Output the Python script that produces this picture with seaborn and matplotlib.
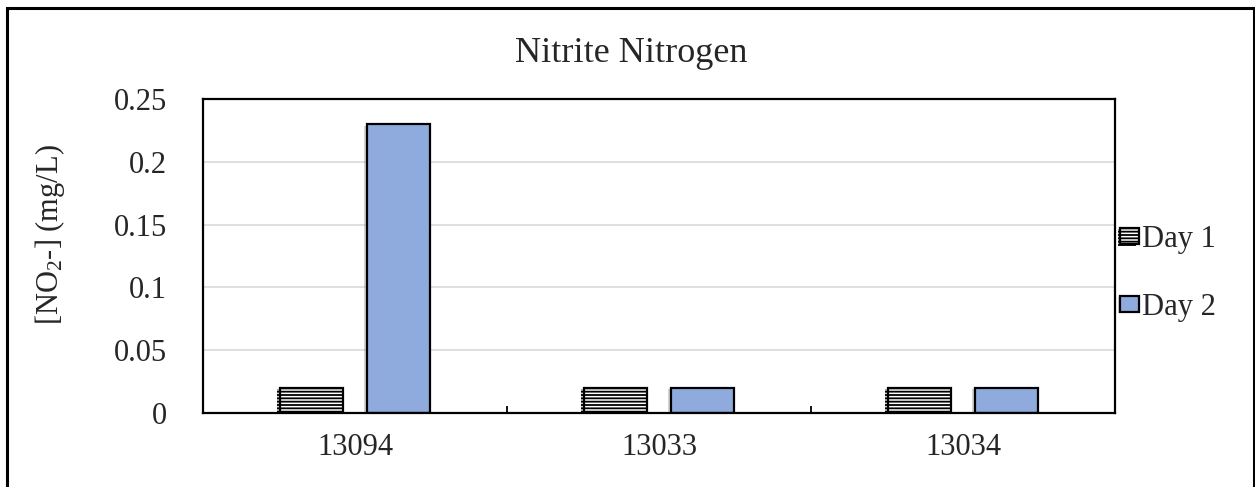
import pandas as pd
import matplotlib.pyplot as plt
import matplotlib.patheffects as pe
from matplotlib.patches import Rectangle
from matplotlib.ticker import FixedLocator
import seaborn as sns

sites = ["13094", "13033", "13034"]
days = ["Day 1", "Day 2"]
day1 = [0.02, 0.02, 0.02]
day2 = [0.23, 0.02, 0.02]
yticks = [0, 0.05, 0.1, 0.15, 0.2, 0.25]
ytick_labels = ["0", "0.05", "0.1", "0.15", "0.2", "0.25"]

df = pd.DataFrame({
    "site": sites * 2,
    "day": [days[0]] * 3 + [days[1]] * 3,
    "value": day1 + day2,
})

sns.set_theme(style="white")
plt.rcParams["font.family"] = ["Liberation Serif", "DejaVu Serif"]
plt.rcParams["mathtext.default"] = "regular"
plt.rcParams["hatch.linewidth"] = 1.3

fig = plt.figure(figsize=(12.55, 4.87), dpi=100)
ax = fig.add_axes([203 / 1255, 1 - 413 / 487, 912 / 1255, 314 / 487])

sns.barplot(data=df, x="site", y="value", hue="day", order=sites, hue_order=days,
            palette={"Day 1": "white", "Day 2": "#8faadc"},
            edgecolor="black", linewidth=1.6, width=0.57, gap=0.27,
            saturation=1, ax=ax)

# soft drop shadow like the original
shadow = [pe.SimplePatchShadow(offset=(-2, -1), shadow_rgbFace="gray", alpha=0.35), pe.Normal()]
for bar in ax.containers[0]:
    bar.set_hatch("-----")
    bar.set_path_effects(shadow)
for bar in ax.containers[1]:
    bar.set_path_effects(shadow)

ax.legend(handles=[ax.containers[0], ax.containers[1]], labels=days,
          loc="center left", bbox_to_anchor=(1.006, 0.445), frameon=False,
          fontsize=22, handlelength=0.6, handleheight=0.45, handletextpad=0.12,
          labelspacing=1.27, borderpad=0, borderaxespad=0)

ax.set_xlim(-0.5, 2.5)
ax.set_ylim(0, 0.25)
ax.set_yticks(yticks)
ax.set_yticklabels(ytick_labels)
ax.yaxis.grid(True, color="#d9d9d9", linewidth=1.2)
ax.set_axisbelow(True)

ax.xaxis.set_minor_locator(FixedLocator([0.5, 1.5]))
ax.tick_params(axis="x", which="major", direction="inout", length=9, width=1.3,
               color="black", labelsize=22, pad=10)
ax.tick_params(axis="x", which="minor", direction="in", length=5, width=1.3,
               color="black", bottom=True)
ax.tick_params(axis="y", length=0, labelsize=22, pad=26)

for sp in ax.spines.values():
    sp.set_color("black")
    sp.set_linewidth(1.6)

ax.set_xlabel("")
ax.set_ylabel("[NO$_2$-] (mg/L)", fontsize=22)
ax.yaxis.set_label_coords(-0.149, 0.567)

fig.text(0.503, 1 - 53 / 487, "Nitrite Nitrogen", ha="center", va="center", fontsize=26)

fig.patches.append(Rectangle((7 / 1255, -0.05), 1247 / 1255, 1.05 - 8 / 487,
                             transform=fig.transFigure, fill=False,
                             edgecolor="black", linewidth=2.2))

fig.savefig("out.png", dpi=100)
